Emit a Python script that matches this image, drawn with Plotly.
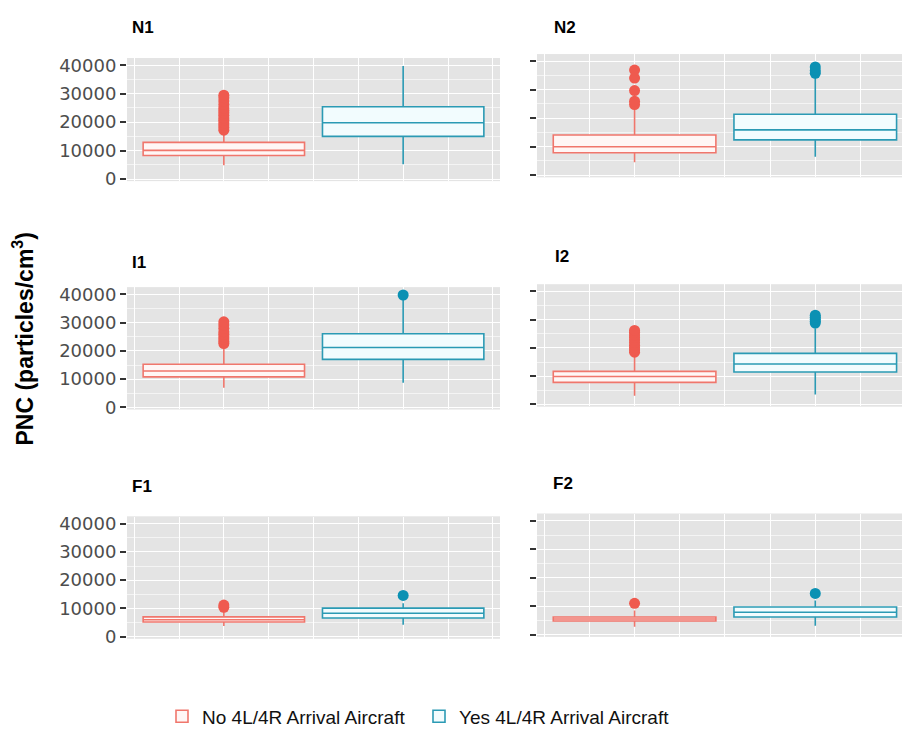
import plotly.graph_objects as go

# ---------------- data ----------------
panels = ["N1", "N2", "I1", "I2", "F1", "F2"]
groups = ["No 4L/4R Arrival Aircraft", "Yes 4L/4R Arrival Aircraft"]

# box statistics per panel: [No, Yes]
q1 = {"N1": [8300, 15000], "N2": [7900, 12400], "I1": [10800, 17000],
      "I2": [7800, 11500], "F1": [5200, 6600], "F2": [4800, 6200]}
median = {"N1": [10100, 19800], "N2": [10000, 15900], "I1": [12900, 21200],
          "I2": [9900, 14300], "F1": [6000, 8300], "F2": [5500, 7900]}
q3 = {"N1": [12900, 25400], "N2": [14100, 21400], "I1": [15300, 26100],
      "I2": [11700, 18100], "F1": [7000, 10100], "F2": [6200, 9700]}
lowerfence = {"N1": [4900, 5200], "N2": [4500, 6500], "I1": [7000, 8700],
              "I2": [3100, 3500], "F1": [3800, 4200], "F2": [2800, 3100]}
upperfence = {"N1": [16000, 39700], "N2": [23500, 35000], "I1": [21500, 38500],
              "I2": [17000, 27000], "F1": [9000, 11800], "F2": [8500, 12000]}
outliers_no = {
    "N1": [17200, 18100, 19000, 19800, 20700, 21500, 22400, 23300, 24100,
           25000, 26200, 27400, 28600, 29500],
    "N2": [24800, 26000, 29700, 34100, 36900],
    "I1": [22600, 23300, 24200, 25000, 25900, 26800, 28000, 29200, 30300],
    "I2": [18500, 19300, 20100, 21000, 21900, 22800, 23700, 24600, 25600, 26200],
    "F1": [10400, 11200],
    "F2": [11000],
}
outliers_yes = {
    "N1": [],
    "N2": [35800, 36800, 38000],
    "I1": [39800],
    "I2": [28800, 29500, 30200, 30900, 31600],
    "F1": [14600],
    "F2": [14500],
}
y_ticks = [0, 10000, 20000, 30000, 40000]

# ---------------- style ----------------
W, H = 902, 746
line_cols = ["#F0766C", "#2B9AB4"]
fill_cols = ["#FFF6F5", "#F2FCFE"]
dot_cols = ["#EF5A4F", "#0B91B3"]
panel_bg = "#E4E4E4"

# panel pixel boxes: (left, right, top, bottom)
boxes = {
    "N1": (127, 500, 55, 180), "N2": (537, 902, 51, 176),
    "I1": (127, 500, 288, 412), "I2": (537, 902, 285, 409),
    "F1": (127, 500, 521, 645), "F2": (537, 902, 518, 643),
}
title_pos = {"N1": (130, 24), "N2": (552, 24), "I1": (130, 263),
             "I2": (553, 257), "F1": (130, 490), "F2": (551, 487)}
x_ranges = {"left": [0.46, 2.54], "right": [0.46, 2.48]}

fig = go.Figure()
layout = {}
annotations = []

for i, p in enumerate(panels):
    k = "" if i == 0 else str(i + 1)
    xa, ya = "x" + k, "y" + k
    l, r, t, b = boxes[p]
    left_col = p.endswith("1")
    layout["xaxis" + k] = dict(
        domain=[l / W, r / W], anchor=ya,
        range=x_ranges["left" if left_col else "right"],
        showticklabels=False, ticks="", showline=False, zeroline=False,
        showgrid=True, gridcolor="white", gridwidth=1.2,
        tick0=0, dtick=0.25, fixedrange=True,
    )
    layout["yaxis" + k] = dict(
        domain=[(H - b) / H, (H - t) / H], anchor=xa,
        range=[-700, 42500], tickvals=y_ticks, tickformat="d",
        showticklabels=left_col, ticks="outside", ticklen=6, tickwidth=2,
        tickcolor="#333333", showline=False, zeroline=False,
        showgrid=True, gridcolor="white", gridwidth=1.3,
        minor=dict(dtick=5000, tick0=0, showgrid=True, gridcolor="#F4F4F4",
                   gridwidth=0.7, ticks=""),
        tickfont=dict(family="DejaVu Sans", size=18, color="#4D4D4D"),
        fixedrange=True,
    )
    for g in range(2):
        fig.add_trace(go.Box(
            x=[g + 1], q1=[q1[p][g]], median=[median[p][g]], q3=[q3[p][g]],
            lowerfence=[lowerfence[p][g]], upperfence=[upperfence[p][g]],
            boxpoints=False, width=0.9, whiskerwidth=0,
            fillcolor=fill_cols[g], line=dict(color=line_cols[g], width=1.6),
            name=groups[g], legendgroup=groups[g], showlegend=(i == 0),
            xaxis=xa, yaxis=ya,
        ))
        outs = (outliers_no if g == 0 else outliers_yes)[p]
        if outs:
            fig.add_trace(go.Scatter(
                x=[g + 1] * len(outs), y=outs, mode="markers",
                marker=dict(color=dot_cols[g], size=11),
                showlegend=False, legendgroup=groups[g], hoverinfo="y",
                xaxis=xa, yaxis=ya,
            ))
    tx, ty = title_pos[p]
    annotations.append(dict(
        text="<b>%s</b>" % p, x=tx / W, y=(H - ty) / H, xref="paper",
        yref="paper", xanchor="left", yanchor="middle", showarrow=False,
        font=dict(family="Liberation Sans, Arial", size=17, color="black"),
    ))

annotations.append(dict(
    text="<b>PNC (particles/cm<sup>3</sup>)</b>", x=23 / W, y=(H - 341) / H,
    xref="paper", yref="paper", xanchor="center", yanchor="middle",
    textangle=-90, showarrow=False,
    font=dict(family="Liberation Sans, Arial", size=23, color="black"),
))

# panel backgrounds
shapes = []
for i, p in enumerate(panels):
    l, r, t, b = boxes[p]
    shapes.append(dict(type="rect", xref="paper", yref="paper",
                       x0=l / W, x1=r / W, y0=(H - b) / H, y1=(H - t) / H,
                       fillcolor=panel_bg, line=dict(width=0), layer="below"))

fig.update_layout(
    width=W, height=H, margin=dict(l=0, r=0, t=0, b=0),
    paper_bgcolor="white", plot_bgcolor=panel_bg,
    annotations=annotations, shapes=shapes,
    legend=dict(orientation="h", x=162 / W, y=(H - 724) / H,
                xanchor="left", yanchor="middle",
                font=dict(family="Liberation Sans, Arial", size=19,
                          color="#111111"),
                entrywidth=212, entrywidthmode="pixels",
                bgcolor="rgba(0,0,0,0)"),
    **layout,
)

fig.write_html("out.html")
